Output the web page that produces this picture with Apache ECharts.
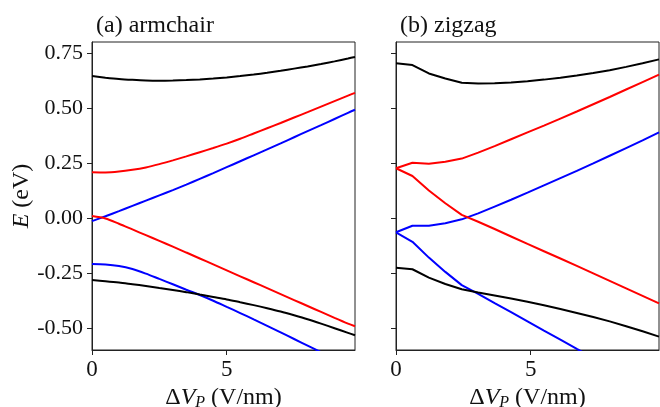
<!DOCTYPE html>
<html><head><meta charset="utf-8">
<script src="https://cdn.jsdelivr.net/npm/echarts@6/dist/echarts.min.js"></script>
<style>html,body{margin:0;padding:0;background:#fff}#c{width:660px;height:407px}</style>
</head><body><div id="c"></div>
<script>
// ---- data ----
const xArm = [0,0.5,1,1.5,2,2.5,3,3.5,4,4.5,5,5.5,6,6.5,7,7.5,8,8.5,9,9.5,9.76];
const armBlackTop = [0.645,0.638,0.632,0.628,0.625,0.624,0.625,0.627,0.630,0.634,0.639,0.645,0.652,0.660,0.669,0.679,0.689,0.700,0.712,0.725,0.732];
const armRedUp    = [0.208,0.207,0.211,0.219,0.230,0.245,0.262,0.280,0.299,0.318,0.338,0.360,0.384,0.408,0.432,0.457,0.481,0.506,0.531,0.556,0.569];
const armBlueUp   = [-0.014,0.008,0.031,0.055,0.079,0.103,0.127,0.152,0.178,0.204,0.231,0.258,0.285,0.312,0.339,0.367,0.395,0.422,0.450,0.478,0.492];
const armRedLow   = [0.009,-0.002,-0.026,-0.052,-0.078,-0.104,-0.130,-0.157,-0.184,-0.211,-0.238,-0.265,-0.292,-0.319,-0.346,-0.373,-0.400,-0.427,-0.454,-0.480,-0.492];
const armBlueLow  = [-0.209,-0.211,-0.218,-0.232,-0.253,-0.277,-0.301,-0.326,-0.350,-0.376,-0.404,-0.432,-0.461,-0.490,-0.520,-0.550,-0.580,-0.610,-0.640,-0.670,-0.685];
const armBlackLow = [-0.282,-0.287,-0.293,-0.301,-0.309,-0.318,-0.327,-0.337,-0.348,-0.359,-0.370,-0.383,-0.396,-0.410,-0.425,-0.442,-0.460,-0.480,-0.501,-0.522,-0.533];

const xZig = [0,0.61,1.22,1.83,2.44,3.05,3.66,4.27,4.88,5.49,6.1,6.71,7.32,7.93,8.54,9.15,9.76];
const zigBlackTop = [0.703,0.695,0.657,0.634,0.615,0.611,0.612,0.616,0.622,0.629,0.638,0.648,0.659,0.672,0.687,0.703,0.721];
const zigRedUp    = [0.226,0.251,0.247,0.256,0.270,0.297,0.327,0.358,0.389,0.420,0.452,0.484,0.517,0.550,0.584,0.618,0.652];
const zigBlueUp   = [-0.065,-0.035,-0.035,-0.024,-0.006,0.021,0.052,0.083,0.115,0.148,0.181,0.214,0.248,0.283,0.318,0.353,0.389];
const zigRedLow   = [0.226,0.191,0.125,0.067,0.014,-0.017,-0.050,-0.084,-0.118,-0.151,-0.184,-0.218,-0.252,-0.286,-0.320,-0.354,-0.388];
const zigBlueLow  = [-0.065,-0.108,-0.180,-0.245,-0.305,-0.345,-0.387,-0.428,-0.470,-0.512,-0.553,-0.595,-0.636,-0.677,-0.718,-0.759,-0.800];
const zigBlackLow = [-0.226,-0.233,-0.271,-0.300,-0.324,-0.339,-0.352,-0.366,-0.381,-0.397,-0.414,-0.432,-0.450,-0.470,-0.492,-0.515,-0.539];

const xTicks = [0,5];
const yTicks = [-0.5,-0.25,0,0.25,0.5,0.75];
const panelTitles = ['(a) armchair','(b) zigzag'];
const yName = 'E (eV)';
const xName = 'ΔV_P (V/nm)';

// ---- chart ----
const FONT = 'Liberation Serif';
const TXT = '#111';
const NF = 24;
const chart = echarts.init(document.getElementById('c'), null, {renderer:'canvas'});
function pairs(xs, ys){ return xs.map((x,i)=>[x, ys[i]]); }
function line(xs, ys, color, idx, smooth){
  return {type:'line', xAxisIndex:idx, yAxisIndex:idx, data:pairs(xs,ys), showSymbol:false, smooth:smooth,
    lineStyle:{color:color, width:2}, itemStyle:{color:color}, clip:true, animation:false};
}
const grids = [
  {left:92, top:42, width:263, height:308, show:true, borderColor:'#222', borderWidth:1, backgroundColor:'transparent', containLabel:false, outerBoundsMode:'none'},
  {left:396, top:42, width:263, height:308, show:true, borderColor:'#222', borderWidth:1, backgroundColor:'transparent', containLabel:false, outerBoundsMode:'none'}
];
const xRich = {
  n:{fontFamily:FONT, fontSize:NF, color:TXT},
  i:{fontFamily:FONT, fontSize:NF, fontStyle:'italic', color:TXT},
  s:{fontFamily:FONT, fontSize:16, fontStyle:'italic', color:TXT, padding:[10,0,0,0], verticalAlign:'bottom'}
};
const xParts = xName.split('_');
const xNameRich = '{n|Δ}{i|' + xParts[0].slice(1) + '}{s|' + xParts[1].slice(0,1) + '}{n|' + xParts[1].slice(1) + '}';
function xAxis(idx){
  return {type:'value', gridIndex:idx, min:0, max:9.76, position:'bottom',
    axisLine:{show:true, onZero:false, lineStyle:{color:'#222', width:1}},
    axisTick:{show:true, length:5, lineStyle:{color:'#222'}, customValues:xTicks},
    axisLabel:{fontFamily:FONT, fontSize:23, color:TXT, margin:8, customValues:xTicks},
    splitLine:{show:false},
    name:xNameRich, nameLocation:'middle', nameGap:32,
    nameTextStyle:{rich:xRich}};
}
function yAxis(idx){
  const a = {type:'value', gridIndex:idx, min:-0.6, max:0.8,
    axisLine:{show:true, onZero:false, lineStyle:{color:'#222', width:1}},
    axisTick:{show:true, length:5, lineStyle:{color:'#222'}, customValues:yTicks},
    axisLabel:{show: idx===0, fontFamily:FONT, fontSize:22, color:TXT, margin:9, customValues:yTicks,
      formatter:v=>v.toFixed(2)},
    splitLine:{show:false}};
  if(idx===0){
    const p = yName.split(' ');
    a.name = '{i|' + p[0] + '}{n| ' + p.slice(1).join(' ') + '}';
    a.nameLocation='middle'; a.nameGap=58; a.nameRotate=90;
    a.nameTextStyle={rich:{n:{fontFamily:FONT,fontSize:NF,color:TXT}, i:{fontFamily:FONT,fontSize:NF,fontStyle:'italic',color:TXT}}};
  }
  return a;
}
chart.setOption({
  animation:false,
  backgroundColor:'#fff',
  title: panelTitles.map((t,i)=>({text:t, left: i===0?91:395, top:9,
    textStyle:{fontFamily:FONT, fontSize:NF, fontWeight:'normal', color:TXT}})),
  grid: grids,
  xAxis:[xAxis(0), xAxis(1)],
  yAxis:[yAxis(0), yAxis(1)],
  series:[
    line(xArm, armBlackTop, '#000', 0, 0.3),
    line(xArm, armRedUp, '#ff0000', 0, 0.3),
    line(xArm, armBlueUp, '#0000ff', 0, 0.3),
    line(xArm, armRedLow, '#ff0000', 0, 0.3),
    line(xArm, armBlueLow, '#0000ff', 0, 0.3),
    line(xArm, armBlackLow, '#000', 0, 0.3),
    line(xZig, zigBlackTop, '#000', 1, false),
    line(xZig, zigRedUp, '#ff0000', 1, false),
    line(xZig, zigBlueUp, '#0000ff', 1, false),
    line(xZig, zigRedLow, '#ff0000', 1, false),
    line(xZig, zigBlueLow, '#0000ff', 1, false),
    line(xZig, zigBlackLow, '#000', 1, false)
  ]
});
</script></body></html>
